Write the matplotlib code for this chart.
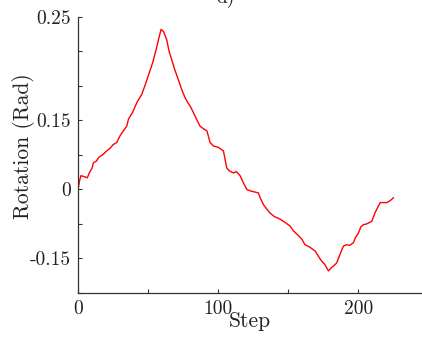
import matplotlib
matplotlib.use("Agg")
import matplotlib.pyplot as plt
from matplotlib.ticker import FixedLocator

plt.rcParams['font.family'] = 'serif'
plt.rcParams['font.serif'] = ['cmr10', 'DejaVu Serif']
plt.rcParams['mathtext.fontset'] = 'cm'
plt.rcParams['axes.unicode_minus'] = False

steps = [0, 1, 2, 4, 6.6, 8, 10, 11, 13, 15, 18, 20.5, 23, 25, 27.6, 30, 32, 34.8, 36, 39,
         42, 45.5, 48, 50, 53.3, 56, 58, 59.3, 61, 63.3, 65, 66.9, 69, 71.6, 74, 76.4, 78, 80,
         82, 84.8, 87, 89.5, 92, 94.3, 96.7, 100.2, 103.8, 106.2, 108, 110.9, 113, 115.7, 118,
         120.5, 123, 125, 128.8, 130, 132.4, 135, 137, 140, 144.3, 148, 151.4, 153.8, 157,
         159.8, 162, 165, 169.3, 172, 174, 176, 178.8, 181, 183, 184.8, 187, 189.5, 192, 194,
         196.7, 198, 200.2, 202, 203.8, 206, 209.8, 212, 215.7, 218, 220.5, 223, 225.2]
rotation = [0.0, 0.012, 0.020, 0.019, 0.017, 0.024, 0.031, 0.039, 0.041, 0.047, 0.051, 0.056,
            0.060, 0.065, 0.068, 0.078, 0.084, 0.092, 0.102, 0.112, 0.126, 0.138, 0.152, 0.164,
            0.184, 0.205, 0.222, 0.232, 0.229, 0.217, 0.200, 0.188, 0.174, 0.159, 0.145, 0.133,
            0.127, 0.121, 0.113, 0.101, 0.092, 0.088, 0.085, 0.068, 0.063, 0.061, 0.056, 0.031,
            0.027, 0.024, 0.026, 0.020, 0.010, 0.000, -0.002, -0.003, -0.005, -0.012, -0.022,
            -0.029, -0.034, -0.039, -0.043, -0.048, -0.053, -0.060, -0.066, -0.072, -0.080,
            -0.083, -0.089, -0.098, -0.104, -0.108, -0.118, -0.113, -0.110, -0.106, -0.094,
            -0.082, -0.080, -0.081, -0.077, -0.070, -0.063, -0.054, -0.051, -0.050, -0.046,
            -0.034, -0.019, -0.019, -0.019, -0.016, -0.012]

ytick_pos = [0.25, 0.20, 0.15, 0.10, 0.05, 0.0, -0.05, -0.10, -0.15]
ytick_labels = ['0.25', '', '', '0.15', '', '0', '', '-0.15', '']
xtick_major = [0, 100, 200]
xtick_minor = [50, 150]

fig = plt.figure(figsize=(4.22, 3.39), dpi=100)
ax = fig.add_axes([0.185, 0.1357, 0.813, 0.8142])
ax.plot(steps, rotation, color='red', linewidth=1.0)

ax.set_xlim(0, 245)
ax.set_ylim(-0.15, 0.25)
ax.set_yticks(ytick_pos)
ax.set_yticklabels(ytick_labels)
ax.set_xticks(xtick_major)
ax.set_xticklabels([str(v) for v in xtick_major])
ax.xaxis.set_minor_locator(FixedLocator(xtick_minor))

for s in ['top', 'right']:
    ax.spines[s].set_visible(False)
for s in ['left', 'bottom']:
    ax.spines[s].set_color('#333333')
    ax.spines[s].set_linewidth(0.9)

ax.tick_params(axis='both', which='both', direction='in', length=3, width=0.8,
               color='#333333', labelsize=14, labelcolor='#222222', pad=5)

ax.set_xlabel('Step', fontsize=15.5, color='#222222', labelpad=-4.5)
ax.set_ylabel('Rotation (Rad)', fontsize=15.5, color='#222222')
ax.yaxis.set_label_coords(-0.125, 0.533)
fig.text(0.535, 1.005, 'd)', fontsize=14, color='#222222', ha='center', va='center')

fig.savefig('out.png', dpi=100)
